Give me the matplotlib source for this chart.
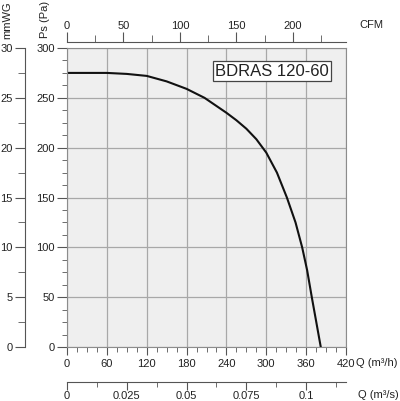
import numpy as np
import matplotlib
matplotlib.use("Agg")
import matplotlib.pyplot as plt
from matplotlib.ticker import MultipleLocator, FuncFormatter

plt.rcParams['font.family'] = ['Liberation Sans', 'DejaVu Sans']
plt.rcParams['font.size'] = 8

# curva
q_m3h = [0, 30, 60, 90, 120, 150, 180, 207, 240, 255, 270, 285, 300, 316, 331, 344, 354, 361.5, 368.5, 375, 382]
ps_pa = [275, 275, 275, 274, 272, 266.5, 259, 250, 235, 227.5, 219, 208.5, 195, 175, 150, 125, 100, 77, 50, 26, 0]

nome_modelo = "BDRAS 120-60"
q_max = 420
ps_max = 300

W, H = 400, 401
cor_txt = '#222222'
cor_tick = '#555555'

def fmt_g(v, pos):
    return '%g' % round(v, 4)

fig = plt.figure(figsize=(W / 100, H / 100), dpi=100)

# eixo principal (Pa x m3/h)
esq, dir_, topo, base = 67, 346, 48, 347
ax = fig.add_axes([esq / W, (H - base) / H, (dir_ - esq) / W, (base - topo) / H])
ax.set_facecolor('#efefef')
ax.plot(q_m3h, ps_pa, color='#111111', lw=1.5, solid_joinstyle='round')
ax.set_xlim(0, q_max)
ax.set_ylim(0, ps_max)
ax.xaxis.set_major_locator(MultipleLocator(60))
ax.xaxis.set_minor_locator(MultipleLocator(15))
ax.yaxis.set_major_locator(MultipleLocator(50))
ax.yaxis.set_minor_locator(MultipleLocator(12.5))
ax.grid(True, which='major', color='#a8a8a8', lw=0.9)
ax.tick_params(which='both', direction='out', color=cor_tick, labelcolor=cor_txt)
ax.tick_params(axis='y', which='major', length=7.2, pad=1.5)
ax.tick_params(axis='y', which='minor', length=3.6)
ax.tick_params(axis='x', which='major', length=5.8, pad=3)
ax.tick_params(axis='x', which='minor', length=3.6)
for s in ax.spines.values():
    s.set_color('#8c8c8c')
ax.text((272 - esq) / (dir_ - esq), (base - 71) / (base - topo), nome_modelo,
        transform=ax.transAxes, ha='center', va='center', fontsize=12, color=cor_txt,
        bbox=dict(boxstyle='square,pad=0.15', fc='white', ec='#444444', lw=0.9))

# eixo CFM no topo
ax_cfm = fig.add_axes([esq / W, (H - 42) / H, (dir_ - esq) / W, 1e-4])
ax_cfm.set_xlim(0, q_max / 1.699)
for k in ['left', 'right', 'bottom']:
    ax_cfm.spines[k].set_visible(False)
ax_cfm.spines['top'].set_color(cor_tick)
ax_cfm.set_yticks([])
ax_cfm.xaxis.set_ticks_position('top')
ax_cfm.xaxis.set_major_locator(MultipleLocator(50))
ax_cfm.xaxis.set_minor_locator(MultipleLocator(25))
ax_cfm.tick_params(which='both', direction='out', color=cor_tick, labelcolor=cor_txt)
ax_cfm.tick_params(which='major', length=7.2, pad=1)
ax_cfm.tick_params(which='minor', length=5)

# eixo mmWG na esquerda
ax_mm = fig.add_axes([25 / W, (H - base) / H, 1e-4, (base - topo) / H])
ax_mm.set_ylim(0, ps_max / 10)
for k in ['top', 'right', 'bottom']:
    ax_mm.spines[k].set_visible(False)
ax_mm.spines['left'].set_color(cor_tick)
ax_mm.set_xticks([])
ax_mm.yaxis.set_major_locator(MultipleLocator(5))
ax_mm.yaxis.set_minor_locator(MultipleLocator(2.5))
ax_mm.tick_params(which='both', direction='out', color=cor_tick, labelcolor=cor_txt)
ax_mm.tick_params(which='major', length=7.2, pad=1.5)
ax_mm.tick_params(which='minor', length=5)

# eixo m3/s embaixo
ax_s = fig.add_axes([esq / W, (H - 382) / H, (dir_ - esq) / W, 1e-4])
ax_s.set_xlim(0, q_max / 3600)
for k in ['left', 'right', 'top']:
    ax_s.spines[k].set_visible(False)
ax_s.spines['bottom'].set_color(cor_tick)
ax_s.set_yticks([])
ax_s.xaxis.set_major_locator(MultipleLocator(0.025))
ax_s.xaxis.set_minor_locator(MultipleLocator(0.0125))
ax_s.xaxis.set_major_formatter(FuncFormatter(fmt_g))
ax_s.tick_params(which='both', direction='out', color=cor_tick, labelcolor=cor_txt)
ax_s.tick_params(which='major', length=5.8, pad=0.5)
ax_s.tick_params(which='minor', length=3.6)

# rotulos
fig.text(7 / W, 1 - 1 / H, 'mmWG', rotation=90, ha='center', va='top', color=cor_txt)
fig.text(45 / W, 1 - 1 / H, 'Ps (Pa)', rotation=90, ha='center', va='top', color=cor_txt)
fig.text(359 / W, 1 - 25 / H, 'CFM', ha='left', va='center', color=cor_txt)
fig.text(356 / W, 1 - 363 / H, 'Q (m³/h)', ha='left', va='center', color=cor_txt)
fig.text(358 / W, 1 - 395 / H, 'Q (m³/s)', ha='left', va='center', color=cor_txt)

fig.savefig('out.png', dpi=100)
